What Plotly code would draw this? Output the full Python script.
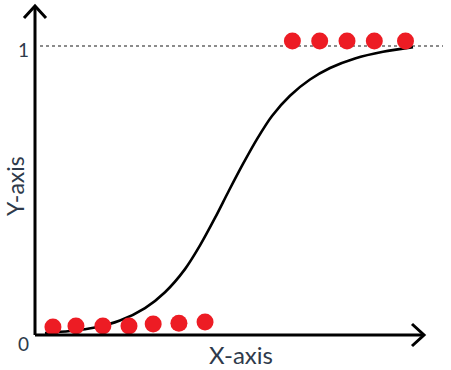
import plotly.graph_objects as go

# Data, x in arbitrary units 0..10, y probability 0..1
low_x = [0.46, 1.05, 1.74, 2.41, 3.03, 3.69, 4.36]
low_y = [0.028, 0.031, 0.031, 0.031, 0.038, 0.041, 0.045]
high_x = [6.6, 7.3, 8.0, 8.7, 9.5]
high_y = [1.017, 1.017, 1.017, 1.017, 1.017]
curve_x = [0.256, 0.897, 1.538, 2.179, 2.821, 3.333, 3.846, 4.231, 4.615, 4.974,
           5.333, 5.692, 6.077, 6.538, 7.051, 7.564, 8.205, 8.923, 9.692]
curve_y = [0.007, 0.014, 0.026, 0.050, 0.093, 0.148, 0.228, 0.310, 0.405, 0.500,
           0.592, 0.678, 0.758, 0.828, 0.884, 0.924, 0.957, 0.980, 0.996]
tick_labels = ["0", "1"]
tick_values = [0, 1]

W, H = 451, 370
# pixel mapping: x=0 at px 35, 39 px per unit; y=0 at py 335, 289 px per unit
x0px, xscale = 35, 39.0
y0px, yscale = 335, 289.0
xr = [(0 - x0px) / xscale, (W - x0px) / xscale]
yr = [(y0px - H) / yscale, y0px / yscale]

def X(px):
    return (px - x0px) / xscale

def Y(py):
    return (y0px - py) / yscale

fig = go.Figure()

# dashed reference line at y = 1
fig.add_trace(go.Scatter(x=[X(40), X(443)], y=[1, 1], mode="lines",
                         line=dict(color="#666666", width=1.5, dash="3px,3px"),
                         hoverinfo="skip", showlegend=False))

# sigmoid curve
fig.add_trace(go.Scatter(x=curve_x, y=curve_y, mode="lines",
                         line=dict(color="black", width=2.6, shape="spline", smoothing=0.8),
                         showlegend=False))

# red data points
fig.add_trace(go.Scatter(x=low_x + high_x, y=low_y + high_y, mode="markers",
                         marker=dict(color="#ED1C24", size=17, line=dict(width=0)),
                         showlegend=False))

axis_line = dict(color="black", width=3)
shapes = [
    # y axis
    dict(type="line", xref="x", yref="y", x0=0, y0=0, x1=0, y1=Y(7), line=axis_line),
    # x axis
    dict(type="line", xref="x", yref="y", x0=0, y0=0, x1=X(422), y1=0, line=axis_line),
    # y arrow head
    dict(type="path", xref="x", yref="y",
         path=f"M {X(24)},{Y(18)} L {X(35)},{Y(6)} L {X(46)},{Y(18)}", line=axis_line),
    # x arrow head
    dict(type="path", xref="x", yref="y",
         path=f"M {X(412)},{Y(324)} L {X(424)},{Y(335)} L {X(412)},{Y(346)}", line=axis_line),
]

font = dict(family="Lato, Open Sans, sans-serif", color="#2E3A4B")
annotations = [
    dict(x=X(23), y=v, xref="x", yref="y", text=t, showarrow=False,
         font=dict(size=19, **font), yshift=-8 if v == 0 else -3)
    for t, v in zip(tick_labels, tick_values)
]
annotations += [
    dict(x=X(241), y=Y(354), xref="x", yref="y", text="X-axis", showarrow=False,
         font=dict(size=24, **font)),
    dict(x=X(0), y=Y(186), xref="x", yref="y", text="Y-axis", showarrow=False,
         xanchor="left", borderpad=0,
         textangle=-90, font=dict(size=23, **font)),
]

fig.update_layout(
    width=W, height=H,
    margin=dict(l=0, r=0, t=0, b=0),
    paper_bgcolor="white", plot_bgcolor="white",
    xaxis=dict(range=xr, visible=False, fixedrange=True),
    yaxis=dict(range=yr, visible=False, fixedrange=True),
    shapes=shapes, annotations=annotations,
    showlegend=False,
)

fig.write_html("out.html", config={"displayModeBar": False},
               post_script="document.body.style.margin='0';document.body.style.overflow='hidden';")
